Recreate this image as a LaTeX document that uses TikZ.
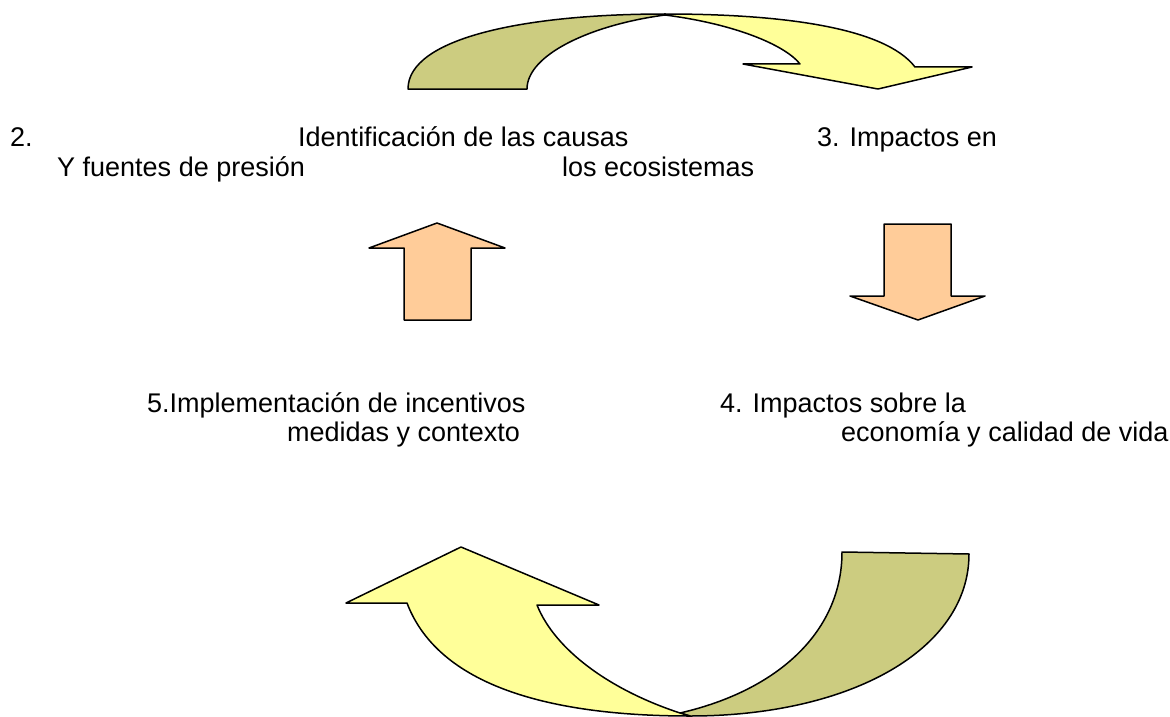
\documentclass[tikz,border=0pt]{standalone}
\usepackage{fontspec}
\setmainfont{Liberation Sans}
\usetikzlibrary{positioning}
\definecolor{olivebk}{RGB}{204,204,128}
\definecolor{paleyel}{RGB}{255,255,153}
\definecolor{peach}{RGB}{255,204,153}

\begin{document}
\begin{tikzpicture}[x=1pt,y=-1pt]
\tikzset{txt/.style = {anchor=base west,inner sep=0pt,font=\fontsize{27}{30}\selectfont}}
\tikzset{band/.style = {draw=black,line width=1.5pt,line join=round}}
\useasboundingbox (0,0) rectangle (1170,717);
% labels
\node[txt] (2a) at (10,146) {2.};
\node[txt] (1a) at (298,146) {Identificación de las causas};
\node[txt] (2b) at (57,176) {Y fuentes de presión};
\node[txt] (3a) at (817,146) {3. Impactos en};
\node[txt] (3b) at (562,176) {los ecosistemas};
\node[txt] (5a) at (147,412) {5.Implementación de incentivos};
\node[txt] (5b) at (287,441) {medidas y contexto};
\node[txt] (4a) at (720,412) {4. Impactos sobre la};
\node[txt] (4b) at (841,441) {economía y calidad de vida};
% top curved arrow
\draw[band,fill=olivebk] (408,89) .. controls (408,38) and (525,14) .. (665,14)
  -- (665,15) .. controls (590,25) and (527,55) .. (527,89) -- cycle;
\draw[band,fill=paleyel] (665,15) .. controls (735,24) and (785,45) .. (800,64)
  -- (743,64) -- (878,89) -- (972,67) -- (915,67)
  .. controls (885,28) and (785,14) .. (665,14) -- cycle;
% straight arrows
\draw[band,fill=peach] (404,320) -- (404,248) -- (369,248) -- (437,223)
  -- (505,248) -- (471,248) -- (471,320) -- cycle;
\draw[band,fill=peach] (884,224) -- (951,224) -- (951,296) -- (985,296)
  -- (918,320) -- (850,296) -- (884,296) -- cycle;
% bottom curved arrow
\draw[band,fill=olivebk] (842,552) -- (969,554) .. controls (969,650) and (850,716) .. (690,716)
  -- (680,713) .. controls (780,690) and (842,630) .. (842,552) -- cycle;
\draw[band,fill=paleyel] (680,713) .. controls (610,690) and (555,650) .. (537,605)
  -- (599,605) -- (461,547) -- (346,603) -- (407,603)
  .. controls (440,690) and (560,716) .. (690,716) -- cycle;
\end{tikzpicture}
\end{document}
